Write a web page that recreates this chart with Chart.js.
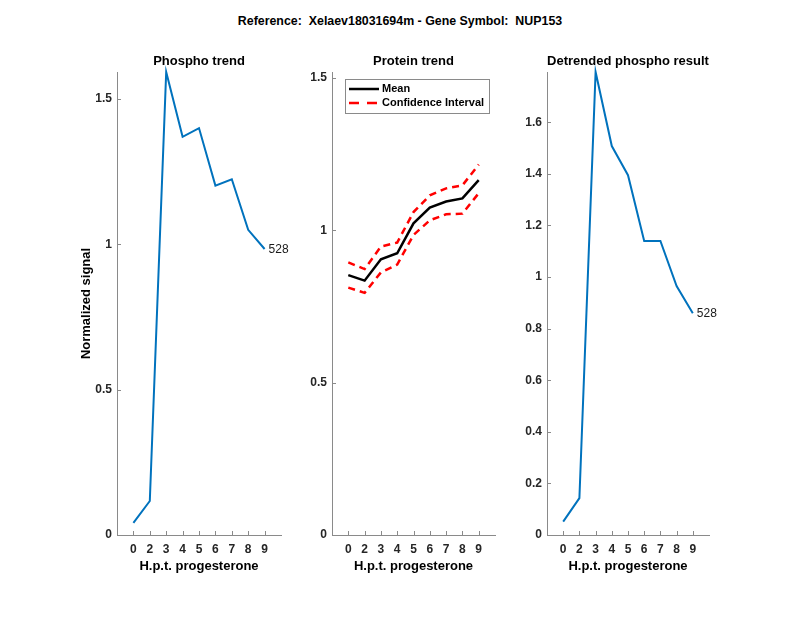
<!DOCTYPE html>
<html>
<head>
<meta charset="utf-8">
<script src="https://cdn.jsdelivr.net/npm/chart.js@4.4.0/dist/chart.umd.min.js"></script>
<style>
  body { margin: 0; background: #fff; }
  #fig { position: relative; width: 800px; height: 618px; background: #fff; overflow: hidden; }
  #fig canvas { position: absolute; top: 0; }
  #suptitle { position: absolute; left: 0; width: 800px; top: 14px; text-align: center;
              font: bold 12.4px "Liberation Sans", Arial, sans-serif; color: #000; white-space: pre; }
</style>
</head>
<body>
<div id="fig">
  <div id="suptitle">Reference:  Xelaev18031694m - Gene Symbol:  NUP153</div>
  <canvas id="c1" width="300" height="618" style="left:0px"></canvas>
  <canvas id="c2" width="220" height="618" style="left:300px"></canvas>
  <canvas id="c3" width="280" height="618" style="left:520px"></canvas>
</div>
<script>
// hours post progesterone (categorical ticks, evenly spaced)
var hpt = ['0', '2', '3', '4', '5', '6', '7', '8', '9'];
var hptPos = [1, 2, 3, 4, 5, 6, 7, 8, 9];

var phospho = [0.042, 0.117, 1.593, 1.370, 1.400, 1.202, 1.224, 1.050, 0.984];
var proteinMean = [0.853, 0.835, 0.905, 0.925, 1.023, 1.075, 1.095, 1.105, 1.165];
var proteinUpper = [0.895, 0.873, 0.947, 0.960, 1.060, 1.115, 1.138, 1.148, 1.216];
var proteinLower = [0.812, 0.795, 0.862, 0.888, 0.985, 1.033, 1.053, 1.055, 1.122];
var detrended = [0.052, 0.143, 1.795, 1.508, 1.395, 1.140, 1.140, 0.965, 0.860];

var phosphoTicks = [0, 0.5, 1, 1.5];
var proteinTicks = [0, 0.5, 1, 1.5];
var detrendedTicks = [0, 0.2, 0.4, 0.6, 0.8, 1, 1.2, 1.4, 1.6];
var proteinYMax = 1.52;
var peptideLabel = '528';

var fontFam = '"Liberation Sans", Arial, sans-serif';
var axisColor = '#8a8a8a';
var tickColor = '#262626';
var blue = '#0072BD';

Chart.defaults.font.family = fontFam;

function pts(vals) {
    return vals.map(function (v, i) { return { x: hptPos[i], y: v }; });
}

// MATLAB style ticks pointing into the axes
var insideTicks = {
    id: 'insideTicks',
    afterDraw: function (chart) {
        var ctx = chart.ctx, area = chart.chartArea;
        var xs = chart.scales.x, ys = chart.scales.y;
        ctx.save();
        ctx.strokeStyle = axisColor;
        ctx.lineWidth = 1;
        ctx.beginPath();
        xs.ticks.forEach(function (t) {
            var px = Math.round(xs.getPixelForValue(t.value)) + 0.5;
            ctx.moveTo(px, area.bottom);
            ctx.lineTo(px, area.bottom - 4);
        });
        ys.ticks.forEach(function (t) {
            var py = Math.round(ys.getPixelForValue(t.value)) + 0.5;
            ctx.moveTo(area.left, py);
            ctx.lineTo(area.left + 4, py);
        });
        ctx.stroke();
        ctx.restore();
    }
};

var panelTitle = {
    id: 'panelTitle',
    afterDraw: function (chart, args, opts) {
        if (!opts.text) return;
        var ctx = chart.ctx, area = chart.chartArea;
        ctx.save();
        ctx.font = 'bold 13px ' + fontFam;
        ctx.fillStyle = '#000';
        ctx.textAlign = 'center';
        ctx.textBaseline = 'middle';
        ctx.fillText(opts.text, (area.left + area.right) / 2, area.top - 11);
        ctx.restore();
    }
};

var endLabel = {
    id: 'endLabel',
    afterDraw: function (chart, args, opts) {
        if (!opts.text) return;
        var meta = chart.getDatasetMeta(0);
        var last = meta.data[meta.data.length - 1];
        var ctx = chart.ctx;
        ctx.save();
        ctx.font = '12px ' + fontFam;
        ctx.fillStyle = '#1a1a1a';
        ctx.textAlign = 'left';
        ctx.textBaseline = 'middle';
        ctx.fillText(opts.text, last.x + 4, last.y + 1);
        ctx.restore();
    }
};

var boxLegend = {
    id: 'boxLegend',
    afterDraw: function (chart, args, opts) {
        if (!opts.show) return;
        var ctx = chart.ctx, area = chart.chartArea;
        var items = chart.data.datasets.filter(function (d) { return !d.noLegend; });
        var left = area.left + 13, top = area.top + 7;
        ctx.save();
        ctx.font = 'bold 11px ' + fontFam;
        var maxW = 0;
        items.forEach(function (d) { maxW = Math.max(maxW, ctx.measureText(d.label).width); });
        var textX = left + 37;
        var w = textX - left + maxW + 5, h = 14 * items.length + 6;
        ctx.fillStyle = '#fff';
        ctx.fillRect(left, top, w, h);
        ctx.strokeStyle = '#8a8a8a';
        ctx.lineWidth = 1;
        ctx.strokeRect(Math.round(left) + 0.5, Math.round(top) + 0.5, Math.round(w), Math.round(h));
        items.forEach(function (d, i) {
            var y = top + 10 + i * 14;
            ctx.strokeStyle = d.borderColor;
            ctx.lineWidth = d.borderWidth;
            ctx.setLineDash(d.legendDash || d.borderDash || []);
            ctx.beginPath();
            ctx.moveTo(left + 4, y);
            ctx.lineTo(left + 34, y);
            ctx.stroke();
            ctx.setLineDash([]);
            ctx.fillStyle = '#000';
            ctx.textBaseline = 'middle';
            ctx.textAlign = 'left';
            ctx.fillText(d.label, textX, y);
        });
        ctx.restore();
    }
};

function makePanel(id, cfg) {
    var ctx = document.getElementById(id).getContext('2d');
    return new Chart(ctx, {
        type: 'line',
        data: { datasets: cfg.datasets },
        plugins: [insideTicks, panelTitle, endLabel, boxLegend],
        options: {
            responsive: false,
            animation: false,
            layout: { padding: { left: 0, right: cfg.padRight, top: 72, bottom: 33 } },
            elements: { point: { radius: 0 }, line: { tension: 0 } },
            plugins: {
                legend: { display: false },
                tooltip: { enabled: false },
                panelTitle: { text: cfg.title },
                endLabel: { text: cfg.endText },
                boxLegend: { show: !!cfg.legend }
            },
            scales: {
                x: {
                    type: 'linear',
                    min: 0,
                    max: 10,
                    afterBuildTicks: function (scale) {
                        scale.ticks = hptPos.map(function (v) { return { value: v }; });
                    },
                    afterFit: function (scale) { scale.height = 50; },
                    grid: { display: false, drawTicks: false },
                    border: { display: true, color: axisColor, width: 1 },
                    ticks: {
                        autoSkip: false,
                        maxRotation: 0,
                        padding: 7,
                        color: tickColor,
                        font: { size: 12, weight: 'bold' },
                        callback: function (v) { return hpt[v - 1]; }
                    },
                    title: {
                        display: true,
                        text: 'H.p.t. progesterone',
                        color: '#000',
                        font: { size: 13, weight: 'bold' },
                        padding: { top: 0, bottom: 11 }
                    }
                },
                y: {
                    type: 'linear',
                    min: 0,
                    max: cfg.yMax,
                    afterBuildTicks: function (scale) {
                        scale.ticks = cfg.yTicks.map(function (v) { return { value: v }; });
                    },
                    afterFit: function (scale) { scale.width = cfg.yAxisWidth; },
                    grid: { display: false, drawTicks: false },
                    border: { display: true, color: axisColor, width: 1 },
                    ticks: {
                        padding: 5,
                        color: tickColor,
                        font: { size: 12, weight: 'bold' },
                        callback: function (v) { return String(v); }
                    },
                    title: {
                        display: !!cfg.yTitle,
                        text: cfg.yTitle || '',
                        color: '#000',
                        font: { size: 13, weight: 'bold' },
                        padding: { top: 79, bottom: 0 }
                    }
                }
            }
        }
    });
}

makePanel('c1', {
    title: 'Phospho trend',
    yTitle: 'Normalized signal',
    yTicks: phosphoTicks,
    yMax: Math.max.apply(null, phospho),
    yAxisWidth: 117,
    padRight: 19,
    endText: peptideLabel,
    datasets: [{ label: 'Phospho', data: pts(phospho), borderColor: blue, borderWidth: 2, clip: false }]
});

makePanel('c2', {
    title: 'Protein trend',
    yTicks: proteinTicks,
    yMax: proteinYMax,
    yAxisWidth: 32,
    padRight: 25,
    legend: true,
    datasets: [
        { label: 'Mean', data: pts(proteinMean), borderColor: '#000', borderWidth: 2.5, clip: false },
        { label: 'Confidence Interval', data: pts(proteinUpper), borderColor: '#ff0000', borderWidth: 2.5, borderDash: [7, 5], legendDash: [10, 8], clip: false },
        { label: 'Confidence Interval', noLegend: true, data: pts(proteinLower), borderColor: '#ff0000', borderWidth: 2.5, borderDash: [7, 5], clip: false }
    ]
});

makePanel('c3', {
    title: 'Detrended phospho result',
    yTicks: detrendedTicks,
    yMax: Math.max.apply(null, detrended),
    yAxisWidth: 27,
    padRight: 91,
    endText: peptideLabel,
    datasets: [{ label: 'Detrended', data: pts(detrended), borderColor: blue, borderWidth: 2, clip: false }]
});
</script>
</body>
</html>
